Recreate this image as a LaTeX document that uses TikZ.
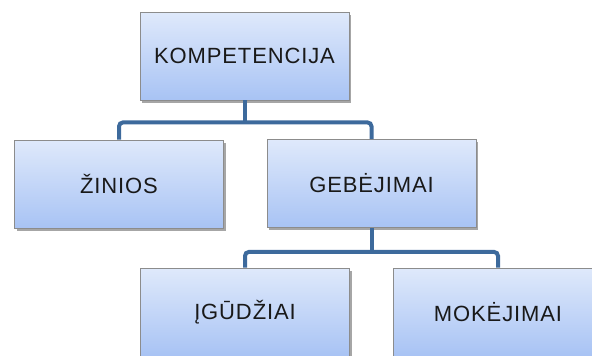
\documentclass[tikz,border=0pt]{standalone}
\usepackage{fontspec}
\setmainfont{Liberation Sans}[LetterSpace=4]
\usetikzlibrary{shadows}

\definecolor{boxtop}{HTML}{DFE9FB}
\definecolor{boxbot}{HTML}{A8C3F4}
\definecolor{boxline}{HTML}{8C8C8C}
\definecolor{linkblue}{HTML}{3D6A9C}

\begin{document}
\begin{tikzpicture}[x=1pt, y=-1pt,
    box/.style={draw=boxline, line width=0.8pt, top color=boxtop, bottom color=boxbot,
        minimum width=209pt, minimum height=88pt, inner sep=0pt,
        font=\fontsize{22}{26}\selectfont, text=black!90,
        drop shadow={shadow xshift=2pt, shadow yshift=-2.5pt, opacity=0.35, fill=black}},
    link/.style={draw=linkblue, line width=4pt, rounded corners=4pt}]
        \useasboundingbox (0,0) rectangle (592,356);
        \clip (0,0) rectangle (592,356);

        % Boxes
        \node[box] (komp) at (244.5,56) {KOMPETENCIJA};
        \node[box] (zin) at (119,184) {ŽINIOS};
        \node[box] (geb) at (371.5,183.5) {GEBĖJIMAI};
        \node[box] (igu) at (245,312) {ĮGŪDŽIAI};
        \node[box] (mok) at (498,312) {MOKĖJIMAI};

        % Links
        \draw[link] (komp.south) -- ++(0,22) coordinate (j1);
        \draw[link] (zin.north) |- (j1) -| (geb.north);
        \draw[link] (geb.south) -- ++(0,24) coordinate (j2);
        \draw[link] (igu.north) |- (j2) -| (mok.north);
    \end{tikzpicture}
\end{document}
